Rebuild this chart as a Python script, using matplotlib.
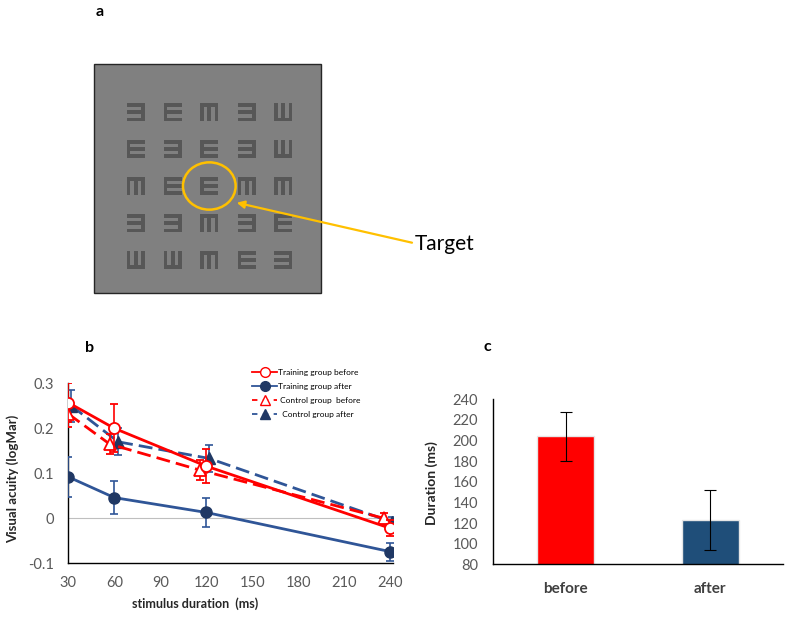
import matplotlib
matplotlib.use('Agg')
import matplotlib.pyplot as plt
from matplotlib.patches import Rectangle, Ellipse
from matplotlib.lines import Line2D

plt.rcParams['font.family'] = ['Lato', 'DejaVu Sans']

# ---------------- Panel a data ----------------
# orientation of each tumbling E: R = E, L = reversed E, D = prongs down, U = prongs up
chart_rows = ["LRDLU", "RLRLU", "DRRDD", "LLDLR", "UUDRL"]
target_cell = (2, 2)
target_label = "Target"

# ---------------- Panel b data ----------------
x_tb = [30, 60, 120, 240]
tb = [0.257, 0.200, 0.116, -0.022]
tb_err = [0.043, 0.053, 0.038, 0.018]

x_ta = [30, 60, 120, 240]
ta = [0.092, 0.046, 0.013, -0.074]
ta_err = [0.045, 0.036, 0.032, 0.020]

x_cb = [30, 57, 116, 236]
cb = [0.232, 0.165, 0.107, 0.000]
cb_err = [0.030, 0.022, 0.022, 0.012]

x_ca = [32, 62.5, 122, 241]
ca = [0.250, 0.170, 0.133, -0.008]
ca_err = [0.035, 0.030, 0.030, 0.010]

series_labels = ["Training group before", "Training group after",
                 " Control group  before", "  Control group after"]
x_ticks_b = [30, 60, 90, 120, 150, 180, 210, 240]
y_ticks_b = [-0.1, 0, 0.1, 0.2, 0.3]
y_ticklabels_b = ["-0.1", "0", "0.1", "0.2", "0.3"]

# ---------------- Panel c data ----------------
categories = ["before", "after"]
duration_vals = [204, 123]
duration_err = [23.5, 29]
y_ticks_c = [80, 100, 120, 140, 160, 180, 200, 220, 240]

RED = '#ff0000'
BLUE = '#2f5597'
NAVY = '#203864'
GRAYTXT = '#595959'

W, H = 787, 620
fig = plt.figure(figsize=(W / 100, H / 100), dpi=100)

# ---------- overlay axes in pixel coordinates (panel a + labels) ----------
ov = fig.add_axes([0, 0, 1, 1])
ov.set_xlim(0, W)
ov.set_ylim(H, 0)
ov.axis('off')

ov.add_patch(Rectangle((94, 64), 227, 229, fc='#808080', ec='#262626', lw=1))

col_c = [135.7, 172.7, 209.3, 246.7, 283.3]
row_c = [112.3, 149.0, 186.0, 223.3, 260.0]
sz = 18.3
E_rects = [(0, 0, 0.2, 1), (0, 0, 1, 0.2), (0, 0.4, 1, 0.2), (0, 0.8, 1, 0.2)]


def draw_E(cx, cy, o):
    x0, y0 = cx - sz / 2, cy - sz / 2
    for (u, v, du, dv) in E_rects:
        if o == 'R':
            x, y, w, h = u, v, du, dv
        elif o == 'L':
            x, y, w, h = 1 - u - du, v, du, dv
        elif o == 'D':
            x, y, w, h = v, u, dv, du
        else:  # 'U'
            x, y, w, h = v, 1 - u - du, dv, du
        ov.add_patch(Rectangle((x0 + x * sz, y0 + y * sz), w * sz, h * sz,
                               fc='#575757', ec='none'))


for r, row in enumerate(chart_rows):
    for c, o in enumerate(row):
        draw_E(col_c[c], row_c[r], o)

tr, tc = target_cell
ov.add_patch(Ellipse((col_c[tc], row_c[tr]), 52.7, 47.3, fc='none',
                     ec='#ffc000', lw=1.8))
ov.annotate('', xy=(236.7, 202.7), xytext=(412, 242.7),
            arrowprops=dict(arrowstyle='-|>', color='#ffc000', lw=1.6,
                            mutation_scale=11, shrinkA=0, shrinkB=0))
ov.text(415, 244, target_label, fontsize=15, va='center', ha='left',
        color='black')

ov.text(100, 12, 'a', fontsize=11.5, fontweight='bold', ha='center', va='center')
ov.text(90, 348, 'b', fontsize=11.5, fontweight='bold', ha='center', va='center')
ov.text(487, 347, 'c', fontsize=11.5, fontweight='bold', ha='center', va='center')

# ---------------- Panel b ----------------
axb = fig.add_axes([68.3 / W, 1 - 563.3 / H, (393.1 - 68.3) / W, 180 / H])
axb.set_facecolor('none')
axb.set_xlim(30, 242)
axb.set_ylim(-0.1, 0.3)
for s in ['top', 'right']:
    axb.spines[s].set_visible(False)
for s in ['left', 'bottom']:
    axb.spines[s].set_color('black')
    axb.spines[s].set_linewidth(1.0)
axb.axhline(0, color='#bfbfbf', lw=0.8, zorder=1)
axb.set_xticks(x_ticks_b)
axb.set_yticks(y_ticks_b)
axb.set_yticklabels(y_ticklabels_b)
axb.tick_params(axis='both', length=0, labelsize=10.5, labelcolor=GRAYTXT)
axb.tick_params(axis='x', pad=9)
axb.tick_params(axis='y', pad=10)

dash = (0, (5, 2.2))
common = dict(lw=2.0, capsize=3, elinewidth=1.2, capthick=1.2, ms=8)
axb.errorbar(x_ta, ta, yerr=ta_err, color=BLUE, marker='o', mfc=NAVY,
             mec=NAVY, zorder=3, **common)
axb.errorbar(x_ca, ca, yerr=ca_err, color=BLUE, marker='^', mfc=NAVY,
             mec=NAVY, ls=dash, zorder=3, **common)
axb.errorbar(x_cb, cb, yerr=cb_err, color=RED, marker='^', mfc='white',
             mec=RED, mew=1.3, ls=dash, zorder=4, **common)
axb.errorbar(x_tb, tb, yerr=tb_err, color=RED, marker='o', mfc='white',
             mec=RED, mew=1.3, zorder=5, **common)

axb.set_xlabel('stimulus duration  (ms)', fontsize=9, fontweight='bold',
               color='#262626')
axb.xaxis.set_label_coords(0.39, -0.19)
axb.set_ylabel('Visual acuity (logMar)', fontsize=9.5, fontweight='bold',
               color='#262626')
axb.yaxis.set_label_coords(-0.152, 0.47)

handles = [
    Line2D([], [], color=RED, lw=1.3, marker='o', ms=7, mfc='white', mec=RED),
    Line2D([], [], color=BLUE, lw=1.3, marker='o', ms=7, mfc=NAVY, mec=NAVY),
    Line2D([], [], color=RED, lw=1.3, ls=(0, (3, 3)), marker='^', ms=7,
           mfc='white', mec=RED),
    Line2D([], [], color=BLUE, lw=1.3, ls=(0, (3, 3)), marker='^', ms=7,
           mfc=NAVY, mec=NAVY),
]
axb.legend(handles, series_labels, loc='upper left',
           bbox_to_anchor=(252 / W, 1 - 369 / H), bbox_transform=fig.transFigure,
           frameon=False, fontsize=6, borderpad=0, handlelength=3.0,
           handletextpad=0.15, labelspacing=0.85, borderaxespad=0)

# ---------------- Panel c ----------------
axc = fig.add_axes([493.3 / W, 1 - 564.3 / H, 289.4 / W, 165 / H])
axc.set_facecolor('none')
axc.bar(categories, duration_vals, width=0.39, color=[RED, '#1f4e79'],
        edgecolor='#e6e6e6', linewidth=1.0, zorder=2)
axc.errorbar(categories, duration_vals, yerr=duration_err, fmt='none',
             ecolor='black', elinewidth=0.8, capsize=4, capthick=0.8, zorder=3)
axc.set_xlim(-0.5, 1.5)
axc.set_ylim(80, 240)
axc.set_yticks(y_ticks_c)
for s in ['top', 'right']:
    axc.spines[s].set_visible(False)
for s in ['left', 'bottom']:
    axc.spines[s].set_color('black')
    axc.spines[s].set_linewidth(1.0)
axc.tick_params(axis='y', length=0, labelsize=10.5, labelcolor=GRAYTXT, pad=11)
axc.tick_params(axis='x', length=0, labelsize=11, labelcolor='#404040', pad=13)
for t in axc.get_xticklabels():
    t.set_fontweight('bold')
axc.set_ylabel('Duration (ms)', fontsize=10, fontweight='bold', color='#262626')
axc.yaxis.set_label_coords(-0.19, 0.49)

fig.savefig('out.png', dpi=100)
